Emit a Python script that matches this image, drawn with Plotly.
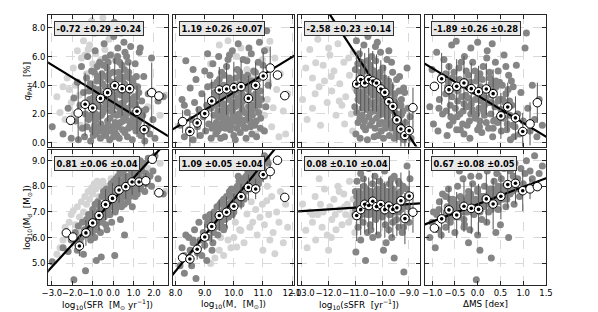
import plotly.graph_objects as go

# ---------------- DATA ----------------
# Each galaxy: (x value of the column, q_PAH [%], log10 Md)
SFR_DARK = [
    (-2.98, 1.1, 5.05), (-2.45, 0.6, 5.6), (-2.2, 2.4, 5.45), (-2.05, 0.3, 5.9), (-1.92, 3.1, 4.35),
    (-1.85, 1.5, 6.2), (-1.75, 4.2, 5.5), (-1.7, 0.2, 6.45), (-1.62, 2.6, 5.8), (-1.55, 5.3, 6.0),
    (-1.5, 1.0, 6.6), (-1.45, 3.5, 5.35), (-1.4, 0.4, 6.3), (-1.35, 2.0, 4.7), (-1.3, 4.5, 6.7),
    (-1.25, 6.0, 6.1), (-1.2, 1.6, 6.9), (-1.15, 3.0, 6.35), (-1.1, 0.1, 5.9), (-1.05, 5.0, 6.8),
    (-1.0, 2.4, 7.1), (-0.95, 3.8, 6.5), (-0.9, 1.2, 6.0), (-0.88, 6.4, 7.3), (-0.82, 0.6, 5.1),
    (-0.8, 4.3, 6.95), (-0.75, 2.9, 7.4), (-0.7, 1.8, 6.6), (-0.66, 5.6, 7.2), (-0.62, 0.3, 6.2),
    (-0.58, 3.4, 5.24), (-0.55, 4.8, 7.6), (-0.5, 2.1, 7.0), (-0.47, 1.0, 7.8), (-0.44, 6.9, 6.8),
    (-0.4, 3.9, 7.35), (-0.36, 0.5, 6.5), (-0.33, 2.6, 7.9), (-0.3, 5.2, 6.3), (-0.27, 1.5, 7.15),
    (-0.23, 4.4, 7.6), (-0.2, 3.1, 6.9), (-0.17, 0.2, 7.5), (-0.13, 6.1, 7.9), (-0.1, 2.2, 8.1),
    (-0.07, 3.6, 6.6), (-0.04, 1.1, 7.3), (0.0, 4.9, 7.7), (0.03, 7.4, 8.2), (0.06, 8.4, 7.8),
    (0.08, 2.9, 5.3), (0.1, 0.7, 7.0), (0.14, 5.7, 8.3), (0.17, 1.9, 7.6), (0.2, 3.9, 8.0),
    (0.23, 6.6, 7.3), (0.26, 2.5, 8.4), (0.3, 0.3, 7.8), (0.33, 4.6, 8.6), (0.36, 1.4, 6.7),
    (0.4, 3.3, 7.5), (0.43, 5.4, 8.2), (0.46, 0.9, 8.0), (0.5, 2.8, 8.5), (0.53, 7.0, 7.9),
    (0.56, 4.1, 6.1), (0.6, 1.7, 8.3), (0.63, 3.0, 8.7), (0.66, 6.0, 7.7), (0.7, 0.4, 8.1),
    (0.73, 2.2, 7.4), (0.76, 4.9, 8.4), (0.8, 3.6, 8.8), (0.83, 1.2, 7.9), (0.86, 6.7, 8.2),
    (0.9, 2.6, 8.6), (0.94, 0.2, 7.2), (0.97, 4.3, 8.0), (1.0, 1.8, 8.9), (1.04, 3.2, 8.4),
    (1.08, 5.5, 7.6), (1.12, 0.8, 8.3), (1.16, 2.4, 8.7), (1.2, 3.9, 7.9), (1.24, 1.4, 8.5),
    (1.28, 6.3, 8.2), (1.33, 6.6, 9.0), (1.36, 0.5, 8.0), (1.4, 2.9, 8.6), (1.45, 1.9, 8.3),
    (1.5, 4.6, 8.9), (1.55, 0.1, 7.8), (1.6, 2.3, 8.5), (1.66, 1.0, 8.1), (1.72, 3.4, 9.1),
    (1.8, 0.6, 8.4), (1.88, 5.9, 8.0), (1.95, 1.6, 8.6), (2.05, 0.3, 9.2), (2.2, 2.9, 8.3),
    (2.45, 3.2, 7.7),
    (-1.18, 3.6, 6.5), (-1.02, 0.9, 6.2), (-0.92, 4.9, 7.0), (-0.85, 2.0, 6.4), (-0.72, 3.7, 6.9),
    (-0.6, 1.3, 7.2), (-0.52, 4.1, 6.6), (-0.42, 2.9, 7.1), (-0.32, 0.9, 7.3), (-0.24, 5.6, 7.0),
    (-0.15, 1.7, 6.9), (-0.05, 4.2, 7.2), (0.05, 2.0, 7.5), (0.12, 3.3, 7.1), (0.19, 0.5, 7.4),
    (0.27, 4.9, 7.7), (0.35, 2.2, 8.1), (0.41, 3.8, 7.2), (0.48, 1.5, 7.6), (0.55, 5.1, 7.3),
    (0.62, 2.4, 7.7), (0.69, 3.5, 7.9), (0.75, 1.0, 7.6), (0.82, 4.5, 7.6), (0.88, 3.0, 8.0),
    (0.95, 2.0, 7.8), (1.02, 4.0, 8.2), (1.1, 2.7, 8.0), (1.18, 1.1, 7.7), (1.26, 3.5, 8.1),
    (1.34, 2.2, 7.9), (1.42, 0.9, 8.8), (-0.98, 3.1, 6.0), (-0.78, 5.3, 6.3), (-0.68, 0.8, 6.9),
    (-0.38, 5.9, 7.7), (-0.12, 3.9, 7.8), (0.22, 6.0, 8.1), (0.58, 6.3, 8.0), (1.14, 4.6, 8.5),
    (-1.28, 1.1, 6.2), (-1.22, 2.7, 6.4), (-1.12, 4.1, 6.5), (-1.08, 1.9, 6.7), (-0.97, 0.5, 6.6),
    (-0.93, 2.8, 6.8), (-0.87, 3.4, 6.7), (-0.83, 1.6, 6.9), (-0.77, 4.6, 6.8), (-0.73, 0.9, 7.0),
    (-0.65, 2.5, 6.8), (-0.63, 4.4, 7.1), (-0.57, 1.9, 7.0), (-0.53, 3.0, 7.2), (-0.48, 5.4, 7.1),
    (-0.45, 0.7, 7.3), (-0.41, 2.3, 7.0), (-0.35, 4.6, 7.3), (-0.31, 3.3, 7.5), (-0.26, 1.2, 7.2),
    (-0.22, 2.8, 7.4), (-0.18, 4.8, 7.3), (-0.14, 0.8, 7.6), (-0.09, 3.3, 7.4), (-0.03, 2.5, 7.6),
    (0.02, 0.4, 7.4), (0.07, 4.0, 7.5), (0.11, 1.4, 7.7), (0.15, 2.7, 7.5), (0.21, 4.4, 7.8),
    (0.25, 1.1, 7.6), (0.29, 3.6, 7.9), (0.32, 5.6, 7.7), (0.38, 2.7, 7.8), (0.44, 1.9, 7.9),
    (0.47, 4.4, 7.8), (0.52, 3.3, 8.0), (0.57, 0.7, 7.9), (0.61, 4.6, 8.1), (0.65, 2.0, 7.9),
    (0.71, 3.1, 8.2), (0.74, 5.6, 8.0), (0.79, 1.5, 8.1), (0.85, 3.9, 8.3), (0.91, 1.1, 8.1),
    (0.99, 2.9, 8.3), (1.06, 1.5, 8.4), (1.15, 3.2, 8.2), (1.22, 2.0, 8.4), (1.31, 1.6, 8.3),
]
SFR_LIGHT = [
    (-2.75, 3.2, 5.35), (-2.6, 2.1, 5.6), (-2.45, 3.9, 5.9), (-2.35, 1.6, 6.4), (-2.25, 4.5, 6.1),
    (-2.15, 3.7, 6.6), (-2.05, 2.8, 6.9), (-1.95, 5.2, 7.05), (-1.85, 4.0, 6.5), (-1.75, 6.4, 7.2),
    (-1.65, 3.3, 6.8), (-1.55, 5.9, 7.4), (-1.45, 7.1, 7.0), (-1.38, 6.1, 7.6), (-1.3, 4.8, 7.3),
    (-1.22, 6.5, 7.8), (-1.15, 6.8, 7.5), (-1.05, 8.5, 7.95), (-1.0, 5.5, 7.7), (-0.92, 7.6, 8.1),
    (-0.85, 6.2, 7.9), (-0.78, 4.6, 8.2), (-0.7, 7.9, 7.6), (-0.6, 5.8, 8.0), (-0.5, 8.7, 8.2),
    (-0.4, 6.5, 7.8), (-0.3, 5.9, 8.0), (-0.2, 7.2, 7.9), (-0.1, 6.1, 8.3), (0.05, 6.0, 8.1),
    (0.2, 5.8, 8.4), (0.4, 7.6, 8.5), (1.7, 2.5, 8.7), (1.95, 3.6, 9.0), (2.3, 1.9, 8.9),
    (2.55, 3.3, 7.8), (-1.9, 2.0, 5.8), (-1.6, 1.2, 6.2),
]
MSTAR_DARK = [
    (8.15, 1.2, 4.9), (8.22, 3.0, 5.6), (8.3, 0.4, 4.6), (8.35, 5.7, 6.1), (8.4, 2.1, 5.2),
    (8.45, 0.9, 6.0), (8.5, 3.8, 5.5), (8.55, 1.6, 4.9), (8.6, 0.2, 5.8), (8.65, 2.8, 6.3),
    (8.7, 4.4, 4.4), (8.75, 1.1, 5.4), (8.8, 2.3, 6.6), (8.85, 0.5, 5.9), (8.9, 3.4, 5.3),
    (8.95, 1.8, 6.2), (9.0, 5.0, 5.7), (9.03, 0.8, 6.8), (9.07, 2.6, 5.1), (9.1, 3.9, 6.5),
    (9.14, 1.3, 6.0), (9.18, 4.7, 6.9), (9.22, 0.3, 6.3), (9.25, 2.9, 6.7), (9.28, 5.5, 5.8),
    (9.32, 1.9, 7.0), (9.35, 3.5, 6.4), (9.38, 0.6, 6.8), (9.42, 4.2, 7.2), (9.45, 2.2, 6.1),
    (9.48, 6.0, 6.9), (9.52, 1.0, 7.3), (9.55, 3.1, 6.6), (9.58, 4.9, 7.4), (9.62, 1.6, 6.9),
    (9.65, 2.7, 7.5), (9.68, 0.4, 6.4), (9.72, 3.8, 7.1), (9.75, 5.3, 7.6), (9.78, 1.3, 7.3),
    (9.82, 2.4, 6.8), (9.85, 4.5, 7.7), (9.88, 0.9, 7.1), (9.92, 3.3, 7.9), (9.95, 6.4, 7.4),
    (9.98, 1.9, 7.6), (10.02, 4.0, 7.2), (10.05, 0.2, 7.9), (10.08, 2.8, 7.5), (10.12, 5.1, 8.0),
    (10.15, 1.4, 7.7), (10.18, 3.6, 8.2), (10.22, 0.7, 7.4), (10.25, 4.6, 7.9), (10.28, 2.3, 8.3),
    (10.32, 5.8, 7.6), (10.35, 1.1, 8.1), (10.38, 3.2, 7.8), (10.42, 0.3, 8.4), (10.45, 4.2, 8.0),
    (10.48, 2.0, 8.6), (10.52, 6.6, 8.2), (10.55, 1.5, 7.9), (10.58, 3.9, 8.5), (10.62, 0.6, 8.3),
    (10.65, 2.6, 8.8), (10.68, 5.0, 8.0), (10.72, 1.2, 8.6), (10.75, 3.4, 8.2), (10.78, 0.4, 8.9),
    (10.82, 4.4, 8.5), (10.85, 2.1, 8.1), (10.88, 7.0, 8.8), (10.92, 1.7, 8.6), (10.95, 3.0, 9.0),
    (11.0, 5.4, 8.7), (11.05, 0.8, 8.4), (11.1, 2.5, 9.1), (11.13, 7.8, 9.06), (11.18, 4.0, 8.9),
    (9.3, 3.0, 6.2), (9.4, 1.4, 6.6), (9.5, 4.4, 6.7), (9.6, 2.0, 7.0), (9.7, 3.3, 6.7),
    (9.8, 5.8, 7.3), (9.9, 2.5, 7.3), (10.0, 3.5, 7.4), (10.1, 1.7, 7.8), (10.2, 4.9, 7.6),
    (10.3, 2.9, 8.0), (10.4, 1.0, 7.9), (10.5, 3.7, 8.1), (10.6, 2.2, 8.4), (10.7, 4.0, 8.3),
    (10.8, 2.8, 8.7), (9.55, 0.3, 6.4), (9.85, 6.1, 7.8), (10.15, 6.9, 8.4), (10.45, 5.7, 8.3),
    (9.1, 6.2, 6.6), (8.6, 5.1, 5.9), (8.3, 2.6, 5.3), (9.25, 1.0, 5.5), (10.0, 0.5, 7.0),
    (10.35, 3.8, 7.5), (10.6, 6.2, 8.6), (9.65, 4.0, 6.3), (9.95, 2.2, 6.9), (10.25, 1.6, 7.3),
    (10.9, 3.6, 8.3), (11.05, 6.4, 9.2),
    (9.21, 2.4, 6.3), (9.27, 4.0, 6.6), (9.33, 1.2, 6.5), (9.36, 2.6, 6.7), (9.41, 3.3, 6.5),
    (9.44, 0.8, 6.8), (9.47, 1.8, 6.6), (9.51, 2.7, 6.9), (9.54, 3.9, 6.8), (9.57, 1.3, 6.9),
    (9.61, 3.5, 7.0), (9.64, 2.3, 6.9), (9.67, 4.7, 7.1), (9.71, 1.0, 7.0), (9.74, 2.0, 7.2),
    (9.77, 3.6, 7.1), (9.81, 1.6, 7.2), (9.84, 3.0, 7.3), (9.87, 4.2, 7.2), (9.91, 1.2, 7.4),
    (9.94, 2.8, 7.3), (9.97, 3.9, 7.5), (10.01, 1.5, 7.4), (10.04, 2.5, 7.6), (10.07, 4.5, 7.5),
    (10.11, 1.0, 7.6), (10.14, 3.1, 7.7), (10.17, 2.0, 7.6), (10.21, 4.1, 7.8), (10.24, 2.6, 7.7),
    (10.27, 3.4, 7.9), (10.31, 1.3, 7.8), (10.34, 4.4, 8.0), (10.37, 2.1, 7.9), (10.41, 3.0, 8.1),
    (10.44, 1.6, 8.0), (10.47, 4.7, 8.2), (10.51, 2.5, 8.1), (10.54, 3.3, 8.3), (10.57, 1.1, 8.2),
    (10.61, 4.3, 8.4), (10.64, 1.9, 8.3), (10.67, 3.1, 8.4), (10.71, 2.4, 8.5), (10.74, 4.9, 8.6),
    (10.77, 1.5, 8.4), (10.81, 3.2, 8.6), (10.84, 5.6, 8.7), (10.87, 2.6, 8.6), (10.91, 1.0, 8.8),
]
MSTAR_LIGHT = [
    (9.2, 5.5, 4.98), (9.35, 3.2, 5.2), (9.5, 6.8, 5.5), (9.65, 2.5, 5.3), (9.8, 7.1, 5.9),
    (9.9, 4.0, 5.6), (10.0, 1.8, 6.0), (10.1, 6.0, 5.63), (10.2, 3.5, 6.3), (10.24, 6.6, 6.27),
    (10.35, 2.6, 5.8), (10.45, 5.1, 6.92), (10.55, 1.4, 6.4), (10.65, 4.6, 6.6), (10.75, 0.6, 7.1),
    (10.8, 8.23, 6.1), (10.9, 3.1, 6.79), (10.98, 5.8, 7.3), (11.05, 1.9, 6.5), (11.13, 6.5, 7.44),
    (11.2, 4.2, 6.9), (11.24, 7.07, 5.9), (11.3, 1.1, 7.6), (11.35, 2.43, 6.2), (11.41, 5.9, 5.37),
    (11.47, 3.7, 7.0), (11.55, 0.4, 6.6), (11.6, 4.8, 7.8), (11.7, 2.2, 5.8), (11.78, 0.6, 7.3),
    (11.85, 3.4, 6.4), (9.55, 4.6, 6.0), (10.05, 7.8, 6.6), (10.6, 2.9, 7.4), (11.0, 0.9, 5.5),
    (11.15, 3.0, 8.0),
]
SSFR_DARK = [
    (-11.02, 2.5, 6.9), (-11.0, 5.1, 7.8), (-10.98, 0.6, 5.43), (-10.96, 7.1, 7.3), (-10.94, 3.6, 8.2),
    (-10.9, 1.4, 6.4), (-10.88, 4.4, 7.6), (-10.85, 6.2, 6.8), (-10.82, 0.3, 7.1), (-10.8, 2.9, 8.5),
    (-10.77, 5.6, 7.0), (-10.74, 1.9, 7.7), (-10.71, 4.0, 6.6), (-10.68, 6.8, 8.0), (-10.65, 3.2, 7.3),
    (-10.62, 0.9, 5.1), (-10.59, 5.0, 7.9), (-10.56, 2.3, 6.9), (-10.53, 7.4, 7.5), (-10.5, 4.5, 8.7),
    (-10.48, 8.2, 7.2), (-10.45, 1.2, 7.8), (-10.42, 3.5, 6.3), (-10.39, 6.0, 7.4), (-10.36, 2.6, 8.1),
    (-10.33, 4.8, 7.0), (-10.3, 0.4, 7.6), (-10.27, 3.9, 8.4), (-10.24, 5.7, 6.7), (-10.21, 1.7, 7.3),
    (-10.18, 7.0, 7.9), (-10.15, 3.0, 6.1), (-10.12, 4.6, 7.5), (-10.09, 2.1, 8.2), (-10.06, 6.3, 7.1),
    (-10.03, 0.8, 7.7), (-10.0, 3.7, 6.8), (-9.97, 5.2, 8.0), (-9.94, 2.4, 7.4), (-9.91, 4.1, 8.6),
    (-9.88, 1.0, 6.5), (-9.85, 3.2, 7.2), (-9.82, 5.8, 7.8), (-9.79, 1.9, 7.0), (-9.76, 4.3, 7.6),
    (-9.73, 0.5, 8.1), (-9.7, 2.8, 6.9), (-9.67, 3.9, 7.4), (-9.64, 1.4, 6.0), (-9.61, 4.9, 7.9),
    (-9.58, 2.3, 7.3), (-9.55, 0.3, 8.4), (-9.52, 3.4, 7.0), (-9.49, 1.7, 7.7), (-9.46, 4.4, 6.7),
    (-9.43, 0.9, 7.5), (-9.4, 2.6, 8.2), (-9.37, 3.6, 6.4), (-9.34, 0.4, 7.1), (-9.31, 1.9, 7.8),
    (-9.28, 3.0, 7.3), (-9.25, 1.1, 6.2), (-9.22, 2.2, 8.0), (-9.19, 0.2, 4.65), (-9.16, 3.5, 7.5),
    (-9.13, 1.4, 6.8), (-9.1, 0.6, 7.9), (-9.07, 5.2, 8.8), (-9.04, 2.4, 7.2), (-9.0, 0.9, 6.6),
    (-8.96, 1.8, 8.3), (-8.92, 0.3, 7.0),
    (-10.9, 3.0, 7.4), (-10.75, 2.4, 7.2), (-10.6, 3.8, 7.6), (-10.5, 1.8, 7.0), (-10.4, 5.1, 7.3),
    (-10.3, 2.2, 7.1), (-10.2, 4.2, 7.5), (-10.1, 1.3, 7.2), (-10.0, 2.9, 7.8), (-9.9, 3.6, 7.0),
    (-9.8, 2.6, 7.5), (-9.7, 1.1, 7.2), (-9.6, 3.0, 6.6), (-9.5, 2.0, 7.6), (-9.4, 1.2, 7.0),
    (-9.3, 2.6, 7.1), (-10.55, 0.2, 6.2), (-10.25, 6.7, 7.7), (-9.95, 0.3, 5.5), (-10.7, 1.1, 8.3),
    (-10.35, 3.3, 6.0), (-9.65, 5.6, 8.3), (-9.85, 2.0, 5.8), (-10.45, 5.4, 6.5), (-10.15, 0.5, 8.8),
    (-9.35, 4.6, 8.1), (-9.2, 3.8, 6.4), (-10.8, 4.9, 5.9), (-9.55, 1.2, 5.2), (-10.05, 4.0, 9.0),
    (-9.75, 6.4, 6.3),
    (-10.99, 4.0, 7.1), (-10.95, 2.1, 7.6), (-10.91, 5.5, 7.0), (-10.87, 3.3, 7.8), (-10.83, 1.7, 7.3),
    (-10.79, 4.6, 7.5), (-10.76, 3.5, 6.9), (-10.72, 2.8, 7.7), (-10.69, 5.3, 7.2), (-10.66, 1.5, 7.4),
    (-10.63, 4.2, 7.0), (-10.61, 2.7, 7.6), (-10.57, 3.6, 7.2), (-10.54, 5.7, 7.7), (-10.51, 2.9, 7.3),
    (-10.47, 4.0, 6.9), (-10.44, 2.1, 7.5), (-10.41, 4.4, 7.8), (-10.38, 1.5, 7.2), (-10.34, 3.7, 7.4),
    (-10.31, 5.0, 7.7), (-10.28, 2.8, 6.9), (-10.26, 1.0, 7.3), (-10.22, 3.3, 7.6), (-10.19, 4.5, 7.1),
    (-10.16, 2.4, 7.4), (-10.13, 3.6, 7.8), (-10.11, 1.9, 6.9), (-10.07, 4.9, 7.3), (-10.04, 2.6, 7.5),
    (-10.01, 1.4, 7.2), (-9.98, 3.4, 7.6), (-9.96, 2.0, 7.1), (-9.92, 4.5, 7.4), (-9.89, 2.7, 7.7),
    (-9.86, 1.4, 7.2), (-9.83, 3.9, 7.0), (-9.8, 1.8, 7.6), (-9.77, 3.0, 7.3), (-9.74, 2.2, 6.9),
    (-9.69, 3.5, 7.7), (-9.66, 1.0, 7.4), (-9.62, 2.6, 7.1), (-9.57, 1.5, 7.5), (-9.53, 2.8, 7.3),
    (-9.48, 0.7, 7.0), (-9.44, 2.0, 7.4), (-9.38, 1.6, 7.6), (-9.32, 1.0, 7.2), (-9.27, 2.0, 7.5),
]
SSFR_LIGHT = [
    (-12.97, 3.0, 7.31), (-12.85, 5.2, 6.28), (-12.8, 1.6, 5.6), (-12.7, 6.5, 7.0), (-12.6, 2.4, 6.6),
    (-12.5, 3.4, 7.6), (-12.48, 5.57, 5.9), (-12.4, 7.2, 6.9), (-12.3, 1.2, 7.3), (-12.24, 8.0, 6.4),
    (-12.15, 4.3, 7.9), (-12.05, 2.8, 6.1), (-11.95, 6.1, 7.2), (-11.88, 3.6, 6.7), (-11.8, 5.0, 7.5),
    (-11.72, 1.9, 6.3), (-11.65, 6.9, 8.0), (-11.58, 4.1, 7.1), (-11.5, 2.6, 6.5), (-11.43, 5.6, 7.7),
    (-11.36, 3.2, 6.9), (-11.3, 7.6, 7.3), (-11.22, 4.7, 8.2), (-11.15, 2.0, 6.8), (-11.08, 6.3, 7.5),
    (-11.02, 3.8, 6.2), (-12.2, 5.4, 7.0), (-11.9, 4.6, 6.0), (-11.6, 2.9, 7.8), (-11.25, 5.9, 6.6),
    (-12.6, 4.5, 6.9), (-11.4, 1.3, 7.2), (-11.75, 7.7, 6.9), (-12.35, 3.9, 8.3), (-11.1, 0.8, 7.0),
    (-12.0, 6.6, 5.5),
]
DMS_DARK = [
    (-1.05, 2.5, 6.0), (-1.0, 5.1, 6.6), (-0.97, 1.3, 7.0), (-0.93, 3.9, 5.6), (-0.9, 6.3, 6.9),
    (-0.87, 0.8, 6.3), (-0.84, 3.0, 7.4), (-0.8, 4.6, 6.1), (-0.77, 2.0, 7.7), (-0.74, 5.8, 6.8),
    (-0.7, 3.4, 6.4), (-0.67, 0.5, 7.2), (-0.64, 4.2, 7.9), (-0.6, 2.6, 6.6), (-0.57, 6.8, 7.0),
    (-0.54, 1.5, 7.5), (-0.5, 3.8, 6.2), (-0.47, 7.07, 7.3), (-0.44, 2.9, 8.0), (-0.41, 5.2, 6.8),
    (-0.38, 0.9, 7.6), (-0.35, 4.0, 7.1), (-0.32, 2.2, 8.3), (-0.29, 6.0, 6.5), (-0.26, 3.3, 7.4),
    (-0.23, 1.2, 7.0), (-0.2, 4.7, 7.8), (-0.17, 0.3, 6.3), (-0.14, 2.7, 7.2), (-0.11, 5.6, 8.1),
    (-0.08, 3.6, 6.9), (-0.05, 1.7, 7.5), (-0.03, 4.3, 4.35), (0.0, 7.0, 7.8), (0.03, 2.4, 8.4),
    (0.06, 3.9, 7.1), (0.09, 0.7, 6.7), (0.12, 5.3, 7.6), (0.15, 1.9, 8.0), (0.18, 3.1, 7.3),
    (0.21, 6.4, 8.6), (0.24, 1.0, 7.0), (0.27, 4.5, 7.9), (0.3, 2.8, 5.2), (0.33, 0.4, 7.6),
    (0.36, 3.6, 8.2), (0.39, 5.6, 7.4), (0.42, 1.6, 8.5), (0.45, 2.9, 7.1), (0.48, 4.2, 7.8),
    (0.52, 0.8, 8.3), (0.55, 2.2, 7.5), (0.58, 6.1, 8.7), (0.62, 3.4, 7.7), (0.65, 1.3, 8.1),
    (0.68, 4.7, 6.0), (0.72, 0.2, 8.6), (0.75, 2.6, 7.8), (0.78, 3.9, 8.4), (0.82, 1.1, 8.9),
    (0.85, 5.4, 7.9), (0.88, 2.0, 8.3), (0.92, 0.6, 7.6), (0.95, 3.5, 8.7), (1.0, 1.5, 8.1),
    (1.04, 6.6, 8.5), (1.07, 7.65, 9.0), (1.1, 2.4, 7.9), (1.15, 0.8, 8.6), (1.2, 4.0, 8.3),
    (1.25, 1.6, 9.2), (1.3, 0.4, 8.0), (1.35, 3.0, 8.5), (1.42, 1.2, 8.8),
    (-0.55, 4.5, 7.2), (-0.45, 1.8, 6.9), (-0.35, 3.2, 7.5), (-0.25, 5.0, 7.1), (-0.15, 2.0, 7.7),
    (-0.05, 3.0, 7.3), (0.05, 4.8, 7.0), (0.15, 2.6, 7.4), (0.25, 3.8, 7.7), (0.35, 1.5, 7.3),
    (0.45, 5.0, 8.0), (0.55, 3.0, 7.9), (-0.62, 1.2, 6.8), (-0.3, 0.6, 6.4), (0.0, 0.9, 6.1),
    (0.2, 5.9, 6.6), (0.5, 1.9, 6.5), (-0.15, 6.6, 8.4), (0.1, 3.4, 8.8), (-0.4, 4.4, 8.6),
    (0.62, 5.3, 7.2), (0.32, 6.9, 7.9), (-0.7, 4.8, 7.6), (0.8, 0.4, 7.3), (-0.2, 3.8, 5.8),
    (0.05, 1.5, 5.5), (0.4, 4.3, 6.2), (-0.85, 2.4, 7.1), (0.7, 2.9, 8.9),
    (-0.69, 2.2, 7.0), (-0.66, 3.9, 6.7), (-0.63, 5.3, 7.1), (-0.59, 1.8, 6.9), (-0.56, 3.2, 7.3),
    (-0.52, 4.9, 6.8), (-0.49, 2.4, 7.1), (-0.46, 0.9, 7.0), (-0.43, 3.6, 7.2), (-0.39, 2.0, 7.3),
    (-0.36, 5.6, 7.0), (-0.33, 1.3, 7.2), (-0.28, 4.3, 7.0), (-0.24, 2.5, 7.3), (-0.21, 3.1, 7.6),
    (-0.18, 1.5, 7.1), (-0.16, 4.2, 7.4), (-0.12, 2.3, 7.0), (-0.1, 3.6, 7.5), (-0.06, 5.0, 7.2),
    (-0.02, 2.0, 7.1), (0.01, 3.3, 7.4), (0.04, 1.1, 7.2), (0.07, 2.9, 7.6), (0.1, 4.4, 7.3),
    (0.13, 2.2, 7.2), (0.16, 3.7, 7.6), (0.19, 1.4, 7.4), (0.23, 2.8, 7.5), (0.26, 4.9, 7.3),
    (0.29, 2.0, 7.7), (0.31, 3.3, 7.5), (0.34, 1.0, 7.8), (0.38, 2.5, 7.6), (0.41, 3.9, 7.9),
    (0.44, 1.4, 7.4), (0.47, 3.0, 7.7), (0.51, 2.3, 7.9), (0.54, 4.0, 7.6), (0.57, 1.7, 8.0),
    (0.6, 2.8, 7.8), (0.64, 0.9, 7.5), (0.67, 3.7, 8.0), (0.71, 1.9, 7.7), (0.74, 4.3, 7.9),
    (0.77, 1.2, 8.1), (-0.6, 3.6, 7.5), (-0.3, 2.7, 6.7), (0.0, 4.6, 7.9), (0.3, 4.1, 7.1),
]

# Binned medians per panel (row-major: top row q_PAH, bottom row log Md)
BIN_X = [
    [-2.08, -1.71, -1.37, -1.0, -0.62, -0.27, 0.08, 0.44, 0.81, 1.17, 1.52, 1.89, 2.24],
    [8.24, 8.49, 8.74, 9.0, 9.24, 9.5, 9.75, 10.0, 10.25, 10.5, 10.75, 11.01, 11.25, 11.5, 11.75],
    [-10.95, -10.8, -10.65, -10.5, -10.35, -10.21, -10.05, -9.9, -9.75, -9.6, -9.45, -9.3, -9.15, -8.99, -8.85],
    [-0.95, -0.79, -0.63, -0.46, -0.3, -0.14, 0.02, 0.19, 0.34, 0.51, 0.66, 0.83, 0.99, 1.15, 1.31],
    [-2.29, -1.97, -1.65, -1.33, -1.0, -0.69, -0.37, -0.03, 0.29, 0.62, 0.93, 1.27, 1.6, 1.92, 2.24],
    [8.24, 8.49, 8.74, 9.0, 9.24, 9.5, 9.75, 10.0, 10.25, 10.5, 10.75, 11.01, 11.25, 11.5, 11.75],
    [-10.95, -10.8, -10.65, -10.5, -10.35, -10.21, -10.05, -9.9, -9.75, -9.6, -9.45, -9.3, -9.15, -8.99, -8.85],
    [-0.95, -0.79, -0.63, -0.46, -0.3, -0.14, 0.02, 0.19, 0.34, 0.51, 0.66, 0.83, 0.99, 1.15, 1.31],
]
BIN_Y = [
    [1.55, 2.06, 2.67, 2.41, 3.08, 3.48, 3.97, 3.76, 3.76, 2.18, 0.9, 3.48, 3.25],
    [1.46, 0.77, 1.37, 2.02, 2.9, 3.67, 3.74, 3.83, 3.9, 3.08, 3.99, 4.64, 5.2, 4.71, 3.27],
    [4.08, 4.4, 4.15, 4.4, 4.29, 4.15, 3.74, 3.5, 2.85, 2.52, 1.58, 0.95, 0.49, 0.83, 2.43],
    [3.92, 4.45, 3.69, 3.92, 4.15, 3.76, 3.55, 3.74, 3.41, 1.86, 2.48, 1.72, 0.77, 1.3, 2.78],
    [6.18, 6.02, 5.67, 6.18, 6.57, 6.86, 7.29, 7.53, 7.86, 7.99, 8.17, 8.17, 8.22, 9.06, 7.75],
    [5.21, 5.16, 5.54, 6.02, 6.43, 6.86, 6.99, 7.22, 7.6, 7.96, 7.9, 8.46, 8.58, 9.02, 7.57],
    [6.86, 7.09, 7.3, 7.25, 7.42, 7.21, 7.29, 7.09, 7.23, 7.1, 7.16, 7.44, 6.74, 7.62, 6.99],
    [6.37, 6.73, 7.08, 6.88, 7.22, 7.14, 7.1, 7.51, 7.31, 7.61, 8.07, 8.12, 7.83, 7.9, 7.99],
]
BIN_ERR = [
    [0, 2.0, 2.2, 1.9, 1.9, 2.0, 1.9, 1.9, 1.8, 1.8, 1.2, 2.1, 0],
    [0.8, 1.2, 1.1, 1.4, 1.5, 1.6, 1.8, 1.8, 1.8, 1.6, 1.6, 1.7, 1.5, 0, 0],
    [2.1, 2.2, 2.1, 2.2, 2.1, 2.0, 2.0, 1.9, 1.8, 1.7, 1.6, 1.4, 1.2, 1.3, 1.4],
    [0, 1.8, 1.8, 1.9, 1.9, 1.8, 1.8, 1.8, 1.7, 1.6, 1.7, 1.5, 1.3, 1.5, 1.4],
    [0, 0, 0.4, 0.5, 0.5, 0.6, 0.6, 0.6, 0.5, 0.5, 0.5, 0.4, 0.3, 0, 0],
    [0, 0.3, 0.4, 0.5, 0.6, 0.6, 0.6, 0.5, 0.5, 0.5, 0.4, 0.3, 0.3, 0, 0],
    [1.0, 1.0, 1.1, 1.1, 1.1, 1.1, 1.1, 1.1, 1.1, 1.1, 1.1, 1.1, 1.0, 1.0, 0.8],
    [0, 0.8, 0.9, 0.9, 1.0, 1.0, 1.0, 1.0, 1.0, 0.9, 0.9, 0.8, 0.8, 0.4, 0],
]
# indices of bins drawn as open circles (few galaxies)
BIN_OPEN = [
    [0, 1, 11, 12], [0, 12, 13, 14], [14], [0, 13, 14],
    [0, 1, 12, 13, 14], [0, 12, 13, 14], [14], [0, 13, 14],
]
FIT_SLOPE = [-0.872, 1.23, -2.86, -1.91, 0.87, 1.40, 0.07, 0.68]
FIT_INTERCEPT = [2.80, -8.80, -25.25, 3.28, 7.46, -6.51, 7.94, 7.30]
FIT_LABELS = ["-0.72 ±0.29 ±0.24", "1.19 ±0.26 ±0.07", "-2.58 ±0.23 ±0.14", "-1.89 ±0.26 ±0.28",
              "0.81 ±0.06 ±0.04", "1.09 ±0.05 ±0.04", "0.08 ±0.10 ±0.04", "0.67 ±0.08 ±0.05"]

X_TICKS = [[-3, -2, -1, 0, 1, 2], [8, 9, 10, 11, 12], [-13, -12, -11, -10, -9],
           [-1.0, -0.5, 0.0, 0.5, 1.0, 1.5]]
Y_TICKS = [[0, 2, 4, 6, 8], [5, 6, 7, 8, 9]]
X_TITLES = ["log<sub>10</sub>(SFR  [M<sub>⊙</sub> yr<sup>−1</sup>])",
            "log<sub>10</sub>(M<sub>⋆</sub>  [M<sub>⊙</sub>])",
            "log<sub>10</sub>(sSFR  [yr<sup>−1</sup>])",
            "ΔMS [dex]"]
Y_TITLES = ["<i>q</i><sub>PAH</sub>  [%]", "log<sub>10</sub>(M<sub>d</sub>  [M<sub>⊙</sub>])"]

# ---------------- LAYOUT ----------------
W, H = 598, 312
X_RANGES = [[-3.18, 2.68], [7.9, 12.08], [-13.13, -8.59], [-1.16, 1.51]]
Y_RANGES = [[-0.28, 8.9], [4.14, 9.44]]
COL_PX = [(32, 155), (160, 285), (289, 414), (419, 544)]
ROW_PX = [(7, 139), (142, 278)]

DARK = "#858585"
LIGHT = "#d4d4d4"
FONT = "DejaVu Sans"

columns = [(SFR_DARK, SFR_LIGHT), (MSTAR_DARK, MSTAR_LIGHT), (SSFR_DARK, SSFR_LIGHT), (DMS_DARK, [])]

fig = go.Figure()
layout = {}
annotations = []
for r in range(2):
    for c in range(4):
        k = r * 4 + c + 1
        xa = "x" if k == 1 else f"x{k}"
        ya = "y" if k == 1 else f"y{k}"
        dark, light = columns[c]
        yi = 1 + r
        if light:
            fig.add_trace(go.Scatter(x=[p[0] for p in light], y=[p[yi] for p in light], mode="markers",
                                     marker=dict(color=LIGHT, size=7), xaxis=xa, yaxis=ya,
                                     showlegend=False, hoverinfo="skip"))
        fig.add_trace(go.Scatter(x=[p[0] for p in dark], y=[p[yi] for p in dark], mode="markers",
                                 marker=dict(color=DARK, size=7), xaxis=xa, yaxis=ya,
                                 showlegend=False, hoverinfo="skip"))
        i = k - 1
        xr = X_RANGES[c]
        lx = [xr[0] - 1, xr[1] + 1]
        fig.add_trace(go.Scatter(x=lx, y=[FIT_INTERCEPT[i] + FIT_SLOPE[i] * v for v in lx], mode="lines",
                                 line=dict(color="black", width=2.2), xaxis=xa, yaxis=ya,
                                 showlegend=False, hoverinfo="skip"))
        fig.add_trace(go.Scatter(x=BIN_X[i], y=BIN_Y[i], mode="markers",
                                 error_y=dict(type="data", array=BIN_ERR[i], color="#555555",
                                              thickness=1, width=0),
                                 marker=dict(color="white", size=8.5, line=dict(color="black", width=1)),
                                 xaxis=xa, yaxis=ya, showlegend=False, hoverinfo="skip"))
        filled = [j for j in range(len(BIN_X[i])) if j not in BIN_OPEN[i]]
        fig.add_trace(go.Scatter(x=[BIN_X[i][j] for j in filled], y=[BIN_Y[i][j] for j in filled],
                                 mode="markers", marker=dict(color="black", size=3.6),
                                 xaxis=xa, yaxis=ya, showlegend=False, hoverinfo="skip"))

        x0, x1 = COL_PX[c]
        y0, y1 = ROW_PX[r]
        common = dict(showline=True, linecolor="#262626", linewidth=1, mirror="ticks", ticks="inside",
                      ticklen=4, tickwidth=1, tickcolor="#262626", showgrid=True, gridcolor="#d9d9d9",
                      griddash="dash", gridwidth=0.7, zeroline=False, tickangle=0,
                      tickfont=dict(family=FONT, size=8.5, color="black"))
        layout["xaxis" if k == 1 else f"xaxis{k}"] = dict(
            common, domain=[x0 / W, x1 / W], range=xr, anchor=ya,
            tickvals=X_TICKS[c], tickformat=".1f", showticklabels=(r == 1))
        layout["yaxis" if k == 1 else f"yaxis{k}"] = dict(
            common, domain=[1 - y1 / H, 1 - y0 / H], range=Y_RANGES[r], anchor=xa,
            tickvals=Y_TICKS[r], tickformat=".1f", showticklabels=(c == 0))

        annotations.append(dict(text="<b>" + FIT_LABELS[i] + "</b>", xref="paper", yref="paper",
                                x=(x0 + 6) / W, y=1 - (y0 + 13.5) / H, xanchor="left", yanchor="middle",
                                showarrow=False, font=dict(family=FONT, size=8.3, color="black"),
                                bgcolor="#e8e8e8", bordercolor="#333333", borderwidth=1, borderpad=1.5))

for c in range(4):
    x0, x1 = COL_PX[c]
    annotations.append(dict(text=X_TITLES[c], xref="paper", yref="paper", x=(x0 + x1) / 2 / W,
                            y=1 - 297 / H, xanchor="center", yanchor="middle", showarrow=False,
                            font=dict(family=FONT, size=8.8, color="black")))
for r in range(2):
    y0, y1 = ROW_PX[r]
    annotations.append(dict(text=Y_TITLES[r], xref="paper", yref="paper", x=11 / W,
                            y=1 - (y0 + y1) / 2 / H, xanchor="center", yanchor="middle", textangle=-90,
                            showarrow=False, font=dict(family=FONT, size=8.8, color="black")))

fig.update_layout(width=W, height=H, margin=dict(l=0, r=0, t=0, b=0), plot_bgcolor="white",
                  paper_bgcolor="white", annotations=annotations, **layout)
fig.write_html("out.html")
